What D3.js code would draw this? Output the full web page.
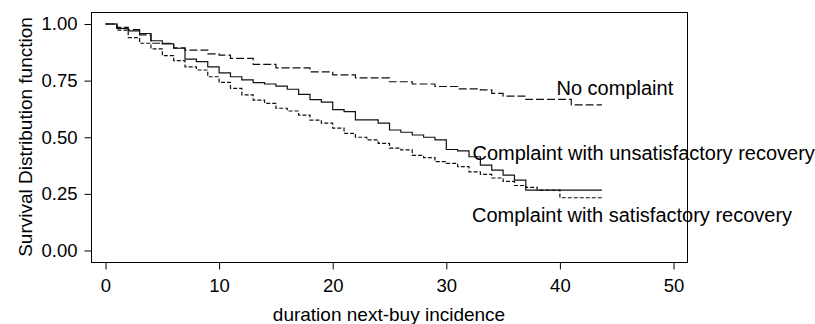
<!DOCTYPE html>
<html>
<head>
<meta charset="utf-8">
<script src="https://cdn.jsdelivr.net/npm/d3@7"></script>
<style>
  html, body { margin: 0; padding: 0; background: #fff; }
  svg { display: block; }
  text { font-family: "Liberation Sans", Arial, Helvetica, sans-serif; fill: #000; }
</style>
</head>
<body>
<svg id="chart" width="815" height="324"></svg>
<script>
// ---- data (step functions: value holds from time t until next time) ----
const noComplaintTimes = [0, 1, 2, 3, 4, 6, 7, 9, 10, 11, 13, 15, 18, 20, 22, 25, 27, 29, 31, 33, 34, 35, 37, 41, 43.7];
const noComplaintSurv  = [1.0, 0.985, 0.975, 0.952, 0.915, 0.895, 0.885, 0.868, 0.863, 0.848, 0.822, 0.806, 0.789, 0.775, 0.762, 0.745, 0.735, 0.724, 0.714, 0.709, 0.694, 0.682, 0.667, 0.643, 0.643];

const unsatTimes = [0, 1, 2, 3, 4, 5, 6, 7, 8, 9, 10, 11, 12, 13, 14, 15, 16, 17, 18, 19, 20, 21, 22, 24, 25, 26, 27, 28, 29, 30, 31, 32, 33, 34, 35, 36, 37, 43.7];
const unsatSurv  = [1.0, 0.981, 0.970, 0.958, 0.926, 0.912, 0.893, 0.845, 0.834, 0.811, 0.784, 0.767, 0.753, 0.741, 0.735, 0.726, 0.712, 0.689, 0.666, 0.655, 0.622, 0.613, 0.577, 0.562, 0.532, 0.522, 0.510, 0.500, 0.488, 0.446, 0.440, 0.414, 0.377, 0.355, 0.333, 0.311, 0.267, 0.267];

const satTimes = [0, 1, 2, 3, 4, 5, 6, 7, 8, 9, 10, 11, 12, 13, 14, 15, 16, 17, 18, 19, 20, 21, 22, 23, 24, 25, 26, 27, 28, 29, 30, 31, 32, 33, 34, 35, 36, 37, 38, 40, 43.7];
const satSurv  = [1.0, 0.973, 0.940, 0.915, 0.890, 0.860, 0.838, 0.811, 0.797, 0.767, 0.742, 0.716, 0.687, 0.664, 0.650, 0.628, 0.616, 0.598, 0.576, 0.562, 0.540, 0.517, 0.500, 0.488, 0.473, 0.452, 0.444, 0.420, 0.410, 0.392, 0.385, 0.370, 0.347, 0.336, 0.320, 0.305, 0.287, 0.279, 0.267, 0.233, 0.233];

const xTicks = [0, 10, 20, 30, 40, 50];
const yTicks = [0, 0.25, 0.5, 0.75, 1.0];

const seriesNames = ["No complaint", "Complaint with unsatisfactory recovery", "Complaint with satisfactory recovery"];
const xTitle = "duration next-buy incidence";
const yTitle = "Survival Distribution function";

// ---- layout ----
const svg = d3.select("#chart");
const box = { left: 91, top: 12, right: 687, bottom: 262 };

const x = d3.scaleLinear().domain([0, 50]).range([105.5, 673.5]);
const y = d3.scaleLinear().domain([0, 1]).range([250.5, 24]);

// box
svg.append("rect")
  .attr("x", box.left + 0.5).attr("y", box.top + 0.5)
  .attr("width", box.right - box.left).attr("height", box.bottom - box.top)
  .attr("fill", "none").attr("stroke", "#000").attr("stroke-width", 1);

// x axis
const xAxis = svg.append("g")
  .attr("transform", `translate(0,${box.bottom + 0.5})`)
  .call(d3.axisBottom(x).tickValues(xTicks).tickSize(7).tickPadding(9).tickFormat(d3.format("d")));
xAxis.select(".domain").remove();
xAxis.selectAll("text").attr("font-size", 18.5).attr("font-family", "Liberation Sans, Arial, sans-serif");
xAxis.selectAll("line").attr("stroke", "#000");

// y axis
const yAxis = svg.append("g")
  .attr("transform", `translate(${box.left + 0.5},0)`)
  .call(d3.axisLeft(y).tickValues(yTicks).tickSize(7).tickPadding(7).tickFormat(d3.format(".2f")));
yAxis.select(".domain").remove();
yAxis.selectAll("text").attr("font-size", 18.5).attr("font-family", "Liberation Sans, Arial, sans-serif");
yAxis.selectAll("line").attr("stroke", "#000");

// titles
svg.append("text")
  .attr("x", (box.left + box.right) / 2).attr("y", 321)
  .attr("text-anchor", "middle").attr("font-size", 19)
  .text(xTitle);

svg.append("text")
  .attr("transform", "translate(31.5,137) rotate(-90)")
  .attr("text-anchor", "middle").attr("font-size", 19)
  .text(yTitle);

// curves
const line = d3.line()
  .x(d => x(d[0]))
  .y(d => y(d[1]))
  .curve(d3.curveStepAfter);

const series = [
  { times: noComplaintTimes, surv: noComplaintSurv, dash: "8,3" },
  { times: unsatTimes, surv: unsatSurv, dash: null },
  { times: satTimes, surv: satSurv, dash: "4,2" }
];

series.forEach(s => {
  const pts = s.times.map((t, i) => [t, s.surv[i]]);
  const p = svg.append("path")
    .datum(pts)
    .attr("d", line)
    .attr("fill", "none")
    .attr("stroke", "#111")
    .attr("stroke-width", 1.2);
  if (s.dash) p.attr("stroke-dasharray", s.dash);
});

// annotations
const labelPos = [
  { x: 556.5, y: 95 },
  { x: 472.5, y: 159.5 },
  { x: 472, y: 221.5 }
];
seriesNames.forEach((name, i) => {
  svg.append("text")
    .attr("x", labelPos[i].x).attr("y", labelPos[i].y)
    .attr("font-size", 20)
    .text(name);
});
</script>
</body>
</html>
